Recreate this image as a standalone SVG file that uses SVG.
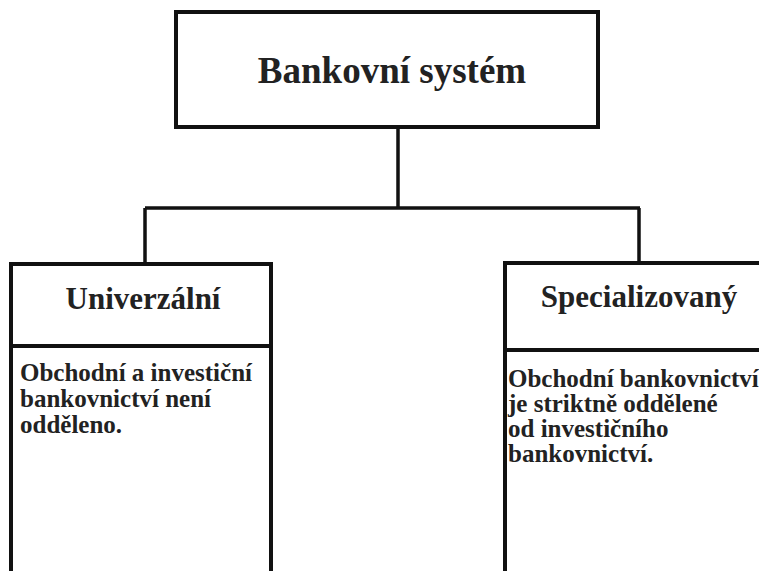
<svg xmlns="http://www.w3.org/2000/svg" width="759" height="571" viewBox="0 0 759 571">
<style>
.box{fill:#fff;stroke:#111;stroke-width:4}
.div{stroke:#111;stroke-width:4}
.conn{fill:none;stroke:#111;stroke-width:3.5}
.title{font-family:"Liberation Serif","Times New Roman",serif;font-weight:bold;fill:#222}
.body{font-family:"Liberation Serif","Times New Roman",serif;font-weight:bold;font-size:25px;fill:#222}
</style>
<rect width="759" height="571" fill="#fff"/>
<g id="connectors">
<path class="conn" d="M398 127V208M145 208H640M145 208V263M639 208V263"/>
</g>
<g id="root">
<rect class="box" x="176" y="12" width="422" height="115"/>
<text class="title" x="392" y="83" font-size="37" text-anchor="middle">Bankovní systém</text>
</g>
<g id="universal">
<rect class="box" x="11" y="264" width="260" height="320"/>
<line class="div" x1="11" y1="346" x2="271" y2="346"/>
<text class="title" x="143" y="309" font-size="31" text-anchor="middle">Univerzální</text>
<text class="body" x="20" y="381">Obchodní a investiční</text>
<text class="body" x="20" y="407">bankovnictví není</text>
<text class="body" x="20" y="433">odděleno.</text>
</g>
<g id="specialized">
<rect class="box" x="505" y="263" width="270" height="320"/>
<line class="div" x1="505" y1="350" x2="775" y2="350"/>
<text class="title" x="639" y="307" font-size="31" text-anchor="middle">Specializovaný</text>
<text class="body" x="508" y="387">Obchodní bankovnictví</text>
<text class="body" x="508" y="412">je striktně oddělené</text>
<text class="body" x="508" y="437">od investičního</text>
<text class="body" x="508" y="462">bankovnictví.</text>
</g>
</svg>
